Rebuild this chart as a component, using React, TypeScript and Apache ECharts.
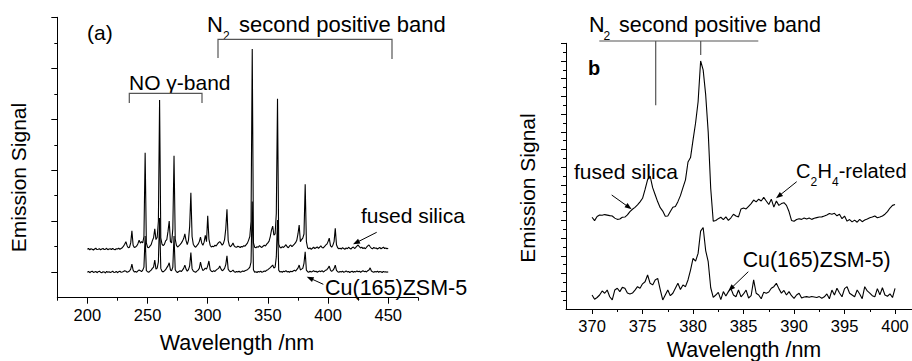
import React, { useEffect, useRef } from "react";
import * as echarts from "echarts";

// ---------- data ----------
// Panel (a): wavelength grid 200..450 nm, 1 nm step
const LEFT_START = 200;
const LEFT_STEP = 1;
const LEFT_FUSED = [
  19.0, 19.3, 18.8, 19.2, 19.0, 18.7, 19.1, 19.4, 18.9, 19.0,
  19.2, 18.8, 19.1, 19.3, 18.9, 19.0, 19.4, 18.8, 19.1, 19.2,
  18.9, 19.3, 19.0, 18.8, 19.2, 19.1, 19.4, 19.0, 19.3, 19.6,
  20.2, 21.0, 22.0, 20.4, 19.6, 19.8, 21.5, 26.2, 20.6, 19.7,
  19.9, 20.3, 21.2, 22.6, 21.4, 22.0, 21.5, 24.0, 56.9, 21.5,
  19.8, 19.6, 20.2, 20.8, 22.4, 23.5, 27.0, 22.8, 23.6, 30.0,
  77.6, 23.5, 21.0, 20.4, 20.9, 22.3, 22.8, 26.0, 30.1, 22.0,
  21.5, 27.0, 55.7, 23.0, 20.5, 19.9, 20.3, 20.8, 21.4, 22.2,
  23.2, 25.0, 22.4, 20.8, 22.5, 28.0, 41.2, 24.0, 21.0, 20.2,
  19.8, 20.4, 21.0, 22.0, 23.8, 21.5, 20.6, 21.8, 24.5, 22.0,
  32.1, 23.0, 20.6, 19.9, 20.2, 20.0, 20.6, 20.3, 21.0, 21.6,
  22.0, 21.4, 20.6, 21.2, 22.8, 27.0, 34.7, 22.5, 20.4, 20.0,
  20.6, 21.5, 20.3, 19.9, 19.8, 20.2, 20.0, 19.7, 20.1, 19.9,
  20.4, 20.2, 20.8, 21.4, 22.6, 24.0, 30.0, 97.6, 21.5, 19.8,
  19.6, 20.0, 19.8, 20.4, 20.0, 19.7, 20.2, 20.6, 20.3, 21.0,
  21.5, 22.2, 24.0, 26.5, 28.1, 24.5, 25.0, 33.0, 78.0, 21.0,
  19.8, 19.5, 20.0, 19.7, 20.2, 20.8, 20.0, 19.6, 20.3, 20.7,
  20.0, 20.5, 21.0, 21.6, 22.5, 25.0, 28.5, 22.0, 22.8, 23.4,
  25.0, 44.5, 22.0, 19.6, 19.2, 19.5, 19.0, 19.4, 19.8, 19.3,
  19.6, 19.9, 19.4, 19.8, 20.3, 19.7, 19.5, 20.0, 20.6, 21.0,
  22.0, 23.4, 20.4, 19.8, 20.6, 22.0, 27.2, 20.8, 19.6, 19.2,
  19.4, 19.1, 19.6, 19.3, 19.0, 19.5, 19.2, 19.8, 19.4, 19.1,
  19.6, 19.9, 19.3, 19.7, 20.2, 20.7, 20.0, 19.5, 19.8, 19.3,
  19.6, 19.2, 19.8, 20.3, 20.7, 20.0, 19.4, 19.2, 19.7, 19.4,
  19.5, 19.1, 19.4, 19.7, 19.2, 19.5, 19.8, 19.3, 19.5, 19.2,
  19.4,
];
const LEFT_CU = [
  10.0, 10.3, 9.8, 10.2, 10.4, 9.9, 10.1, 10.3, 9.8, 10.2,
  10.4, 10.0, 9.8, 10.2, 10.1, 9.7, 10.3, 10.0, 10.2, 9.9,
  10.1, 10.4, 9.9, 10.0, 10.3, 9.8, 10.2, 10.4, 10.0, 10.1,
  10.3, 10.6, 10.4, 10.0, 10.2, 10.5, 11.2, 13.2, 10.8, 10.1,
  10.3, 10.0, 10.5, 10.9, 10.6, 10.2, 10.8, 12.0, 24.2, 10.6,
  10.2, 10.0, 10.4, 10.8, 11.5, 12.0, 14.8, 11.2, 11.6, 14.0,
  31.3, 11.5, 10.4, 10.1, 10.5, 11.0, 11.8, 12.5, 13.7, 10.9,
  10.6, 12.0, 24.2, 11.0, 10.2, 9.9, 10.3, 10.6, 10.2, 10.8,
  11.5, 12.8, 11.2, 10.4, 11.0, 12.5, 17.7, 11.4, 10.5, 10.2,
  10.0, 10.4, 10.8, 11.5, 14.0, 11.8, 10.7, 11.0, 11.6, 11.2,
  12.5, 14.4, 11.0, 10.4, 10.2, 10.6, 10.3, 10.8, 11.2, 11.5,
  12.4, 11.3, 10.6, 10.9, 11.5, 13.0, 16.4, 11.2, 10.5, 10.2,
  10.4, 10.8, 10.2, 10.0, 10.3, 10.1, 10.4, 10.0, 10.2, 10.5,
  10.3, 10.6, 10.8, 11.0, 11.4, 12.0, 14.0, 37.7, 11.0, 10.0,
  10.2, 9.9, 10.3, 10.1, 10.4, 10.0, 10.2, 10.5, 10.3, 10.8,
  11.0, 11.4, 11.8, 12.3, 12.8, 11.6, 12.0, 16.0, 30.5, 10.8,
  10.1, 10.3, 10.0, 10.4, 10.2, 10.6, 10.1, 10.3, 10.0, 10.4,
  10.2, 10.5, 10.8, 10.4, 11.0, 11.6, 12.8, 10.9, 11.2, 11.5,
  13.5, 18.0, 10.8, 10.2, 10.0, 10.4, 10.1, 10.3, 10.6, 10.2,
  10.4, 10.0, 10.3, 10.5, 10.2, 10.6, 10.1, 10.4, 10.8, 11.0,
  11.6, 12.4, 10.8, 10.3, 10.7, 11.4, 12.8, 10.7, 10.2, 10.0,
  10.3, 10.1, 10.4, 10.0, 10.2, 10.5, 10.1, 10.3, 9.9, 10.2,
  10.4, 10.0, 10.3, 10.1, 10.5, 10.2, 10.4, 10.0, 10.3, 10.6,
  10.2, 10.4, 10.1, 10.6, 10.9, 11.7, 10.5, 10.2, 10.0, 10.3,
  10.1, 10.4, 10.0, 10.3, 10.2, 9.9, 10.3, 10.1, 10.2, 10.0,
  10.2,
];

// Panel (b): wavelength grid 370..400 nm, 0.25 nm step
const RIGHT_START = 370;
const RIGHT_STEP = 0.25;
const RIGHT_FUSED = [
  51.8, 49.9, 52.2, 53.1, 52.9, 53.3, 53.0, 52.7,
  52.5, 51.3, 50.6, 50.8, 51.8, 51.9, 53.1, 55.0,
  56.3, 57.4, 58.8, 60.5, 62.5, 67.5, 73.0, 75.0,
  68.5, 64.5, 60.5, 57.2, 55.3, 52.4, 52.5, 55.0,
  57.4, 57.9, 60.6, 64.0, 68.5, 72.9, 83.0, 85.5,
  95.5, 105.0, 117.0, 140.0, 135.0, 121.0, 100.0, 68.0,
  49.5, 50.0, 51.0, 51.8, 50.5, 52.0, 50.0, 51.5,
  53.5, 52.5, 52.0, 56.5, 57.0, 56.5, 58.0, 59.5,
  61.5, 60.5, 62.0, 61.0, 63.0, 61.0, 59.0, 62.0,
  57.5, 61.0, 58.5, 59.5, 60.0, 58.5, 55.0, 50.0,
  49.5, 50.5, 51.0, 50.6, 51.4, 50.8, 51.4, 50.6,
  51.2, 51.6, 51.9, 52.0, 52.5, 53.1, 53.9, 53.5,
  54.0, 52.6, 53.5, 51.0, 52.5, 49.6, 50.5, 49.2,
  50.2, 49.0, 50.6, 49.3, 50.2, 50.8, 51.5, 51.9,
  52.5, 51.5, 51.9, 52.5, 53.5, 55.0, 57.0, 58.5,
  59.0,
];
const RIGHT_CU = [
  7.9, 5.5, 6.5, 7.9, 10.2, 8.9, 10.7, 6.9,
  5.1, 10.7, 11.7, 9.8, 12.2, 11.7, 9.0, 8.5,
  9.0, 10.7, 12.6, 11.7, 14.2, 15.4, 19.2, 14.5,
  13.6, 16.4, 17.3, 11.0, 5.1, 7.9, 10.7, 7.5,
  8.9, 11.7, 14.5, 11.0, 13.6, 12.6, 16.4, 22.0,
  28.6, 27.0, 31.4, 44.0, 46.0, 33.0, 26.7, 12.0,
  6.6, 7.9, 9.4, 5.3, 9.8, 7.3, 9.8, 11.5,
  7.9, 6.9, 10.7, 6.9, 8.5, 10.7, 6.2, 7.5,
  16.4, 8.9, 7.9, 5.8, 9.5, 8.9, 9.6, 11.7,
  12.6, 14.5, 11.5, 8.9, 10.5, 7.9, 9.8, 7.5,
  6.0, 7.9, 8.9, 6.2, 6.8, 7.0, 6.6, 7.1,
  6.8, 6.5, 7.0, 6.1, 6.9, 8.5, 5.8, 10.7,
  7.9, 11.7, 9.0, 6.9, 11.5, 12.6, 8.9, 7.9,
  6.9, 10.7, 8.5, 5.8, 12.6, 10.2, 9.0, 7.5,
  6.9, 11.5, 8.0, 12.0, 7.9, 7.2, 8.5, 6.5,
  11.7,
];

const LEFT_MAJOR_X = [200, 250, 300, 350, 400, 450];
const LEFT_MINOR_X = [175, 225, 275, 325, 375, 425, 475];
const RIGHT_MAJOR_X = [370, 375, 380, 385, 390, 395, 400];
const RIGHT_MINOR_X = [372.5, 377.5, 382.5, 387.5, 392.5, 397.5];
const LEFT_MAJOR_Y = [10, 30, 50, 70, 90, 110];
const LEFT_MINOR_Y = [20, 40, 60, 80, 100];
const RIGHT_MAJOR_Y = [10, 20, 30, 40, 50, 60, 70, 80, 90, 100, 110, 120, 130, 140, 150];
const RIGHT_MINOR_Y = [5, 15, 25, 35, 45, 55, 65, 75, 85, 95, 105, 115, 125, 135, 145];

const FONT = 'Arial, "Liberation Sans", Helvetica, sans-serif';

function pairs(start: number, step: number, vals: number[]) {
  return vals.map((v, i) => [start + i * step, v]);
}

function txt(x: number, y: number, text: string, size: number, extra: any = {}) {
  return {
    type: "text",
    x,
    y,
    rotation: extra.rotation || 0,
    style: {
      text,
      fontSize: size,
      fontFamily: FONT,
      fontWeight: extra.bold ? "bold" : "normal",
      fill: "#000",
      align: extra.align || "left",
      verticalAlign: "middle",
    },
  };
}

function arrow(sx: number, sy: number, tx: number, ty: number) {
  const dx = tx - sx;
  const dy = ty - sy;
  const L = Math.hypot(dx, dy);
  const ux = dx / L;
  const uy = dy / L;
  const bx = tx - ux * 7;
  const by = ty - uy * 7;
  const px = -uy;
  const py = ux;
  return [
    {
      type: "line",
      shape: { x1: sx, y1: sy, x2: bx + ux * 2, y2: by + uy * 2 },
      style: { stroke: "#000", lineWidth: 1 },
    },
    {
      type: "polygon",
      shape: {
        points: [
          [tx, ty],
          [bx + px * 2.6, by + py * 2.6],
          [bx - px * 2.6, by - py * 2.6],
        ],
      },
      style: { fill: "#000" },
    },
  ];
}

function bracket(points: number[][]) {
  return {
    type: "polyline",
    shape: { points },
    style: { stroke: "#555", lineWidth: 1.2, fill: "none" },
  };
}

function xAxisDef(grid: number, min: number, max: number, ticks: number[], len: number, labels: boolean, line: boolean, margin: number) {
  return {
    type: "value",
    gridIndex: grid,
    position: "bottom",
    offset: 0,
    min,
    max,
    axisLine: { show: line, onZero: false, lineStyle: { color: "#000", width: 1 } },
    axisTick: { show: true, customValues: ticks, length: len, lineStyle: { color: "#000", width: 1 } },
    axisLabel: labels
      ? { show: true, customValues: ticks, fontSize: 16.5, fontFamily: FONT, color: "#000", margin }
      : { show: false },
    splitLine: { show: false },
  };
}

function yAxisDef(grid: number, min: number, max: number, ticks: number[], len: number, line: boolean) {
  return {
    type: "value",
    gridIndex: grid,
    position: "left",
    offset: 0,
    min,
    max,
    axisLine: { show: line, onZero: false, lineStyle: { color: "#000", width: 1 } },
    axisTick: { show: true, customValues: ticks, length: len, lineStyle: { color: "#000", width: 1 } },
    axisLabel: { show: false },
    splitLine: { show: false },
  };
}

export default function App() {
  const ref = useRef<HTMLDivElement>(null);

  useEffect(() => {
    if (!ref.current) return;
    const chart = echarts.init(ref.current, null, { renderer: "svg" });

    const lineStyle = { color: "#000", width: 1.1 };
    const series: any[] = [
      { type: "line", xAxisIndex: 0, yAxisIndex: 0, data: pairs(LEFT_START, LEFT_STEP, LEFT_FUSED), showSymbol: false, lineStyle, silent: true },
      { type: "line", xAxisIndex: 0, yAxisIndex: 0, data: pairs(LEFT_START, LEFT_STEP, LEFT_CU), showSymbol: false, lineStyle, silent: true },
      { type: "line", xAxisIndex: 2, yAxisIndex: 2, data: pairs(RIGHT_START, RIGHT_STEP, RIGHT_FUSED), showSymbol: false, lineStyle, silent: true },
      { type: "line", xAxisIndex: 2, yAxisIndex: 2, data: pairs(RIGHT_START, RIGHT_STEP, RIGHT_CU), showSymbol: false, lineStyle, silent: true },
    ];

    const graphics: any[] = [
      // Panel (a)
      txt(87, 32, "(a)", 21),
      txt(207, 24.5, "N", 22),
      txt(223, 36, "2", 12),
      txt(233, 24.5, " second positive band", 22),
      bracket([[218, 58], [218, 39.3], [392, 39.3], [392, 59]]),
      txt(129, 82.5, "NO \u03b3-band", 21),
      bracket([[129.3, 103], [129.3, 93.3], [202, 93.3], [202, 103]]),
      txt(361, 215, "fused silica", 21),
      ...arrow(376.7, 232.3, 353, 244.3),
      txt(325, 288, "Cu(165)ZSM-5", 21.5),
      ...arrow(323.3, 284.3, 306.7, 276.7),
      txt(18.5, 177.5, "Emission Signal", 21, { align: "center", rotation: Math.PI / 2 }),
      txt(237, 343, "Wavelength /nm", 21.5, { align: "center" }),
      // Panel (b)
      txt(589, 24.5, "N", 21.5),
      txt(603.5, 36, "2", 12),
      txt(613, 24.5, " second positive band", 21.5),
      bracket([[599.3, 41], [758.3, 41]]),
      bracket([[655.7, 41], [655.7, 105.3]]),
      bracket([[700.7, 41], [700.7, 55]]),
      txt(588, 68, "b", 20, { bold: true }),
      txt(574, 171, "fused silica", 21),
      ...arrow(611.7, 195, 631.7, 209.3),
      txt(796, 171, "C", 20),
      txt(810.5, 182, "2", 12),
      txt(817.5, 171, "H", 20),
      txt(832, 182, "4", 12),
      txt(838.7, 171, "-related", 20),
      ...arrow(796.7, 181.7, 776, 198.3),
      txt(742.7, 259.5, "Cu(165)ZSM-5)", 21.3),
      ...arrow(748.3, 271.7, 728.3, 291),
      txt(527.5, 188, "Emission Signal", 21, { align: "center", rotation: Math.PI / 2 }),
      txt(744, 350, "Wavelength /nm", 21.5, { align: "center" }),
    ];

    chart.setOption({
      animation: false,
      backgroundColor: "#fff",
      textStyle: { fontFamily: FONT },
      grid: [
        { left: 57.3, top: 17.3, width: 361, height: 280.4, containLabel: false, outerBoundsMode: "none" },
        { left: 566, top: 43.3, width: 345.7, height: 265.7, containLabel: false, outerBoundsMode: "none" },
      ],
      xAxis: [
        xAxisDef(0, 175, 475, LEFT_MAJOR_X, 6, true, true, 9),
        xAxisDef(0, 175, 475, LEFT_MINOR_X, 3, false, false, 0),
        xAxisDef(1, 367.42, 401.65, RIGHT_MAJOR_X, 5, true, true, 8),
        xAxisDef(1, 367.42, 401.65, RIGHT_MINOR_X, 3, false, false, 0),
      ],
      yAxis: [
        yAxisDef(0, 0, 110, LEFT_MAJOR_Y, 6, true),
        yAxisDef(0, 0, 110, LEFT_MINOR_Y, 3, false),
        yAxisDef(1, 0, 150, RIGHT_MAJOR_Y, 5, true),
        yAxisDef(1, 0, 150, RIGHT_MINOR_Y, 3, false),
      ],
      series,
      graphic: graphics,
    });

    return () => chart.dispose();
  }, []);

  return (
    <div
      ref={ref}
      style={{ position: "fixed", left: 0, top: 0, width: 912, height: 361, background: "#fff" }}
    />
  );
}
